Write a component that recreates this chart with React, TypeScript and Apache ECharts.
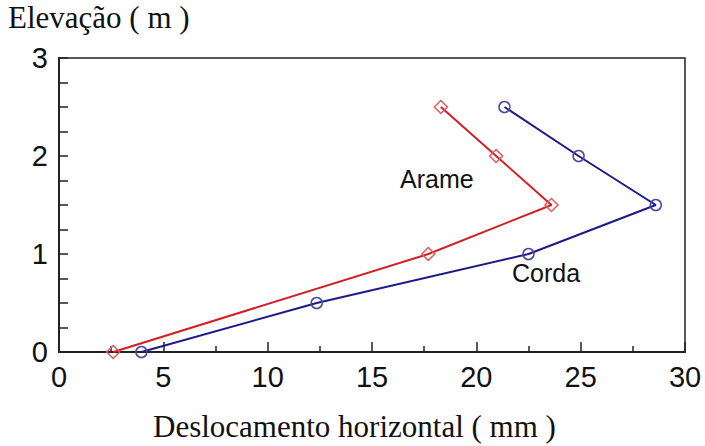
import React, { useEffect, useRef } from "react";
import * as echarts from "echarts";

const elevations = [0, 1.0, 1.5, 2.0, 2.5];
const arameX = [2.6, 17.7, 23.6, 20.95, 18.3];
const cordaElev = [0, 0.5, 1.0, 1.5, 2.0, 2.5];
const cordaX = [3.95, 12.35, 22.5, 28.6, 24.9, 21.35];
const xTicks = [0, 5, 10, 15, 20, 25, 30];
const yTicks = [0, 1, 2, 3];

const RED = "#d21f26";
const BLUE = "#1c1a8a";

export default function App() {
  const ref = useRef<HTMLDivElement>(null);
  useEffect(() => {
    if (!ref.current) return;
    const chart = echarts.init(ref.current, null, { renderer: "svg" });
    const axisCol = "#222";
    const sans = "Liberation Sans, Arial";
    const serif = "Liberation Serif, Times New Roman";
    chart.setOption({
      animation: false,
      backgroundColor: "#ffffff",
      grid: { left: 59, right: 20, top: 58, bottom: 94, show: true, borderColor: axisCol, borderWidth: 1.5, backgroundColor: "transparent" },
      xAxis: {
        type: "value",
        min: xTicks[0],
        max: xTicks[xTicks.length - 1],
        interval: 5,
        axisLine: { show: true, lineStyle: { color: axisCol, width: 2 } },
        axisTick: { show: true, inside: false, length: -10, lineStyle: { color: axisCol, width: 1.5 } },
        minorTick: { show: true, splitNumber: 2, length: -6, lineStyle: { color: axisCol, width: 1.5 } },
        splitLine: { show: false },
        axisLabel: { color: "#111", fontSize: 29, fontFamily: sans, margin: 10 },
      },
      yAxis: {
        type: "value",
        min: yTicks[0],
        max: yTicks[yTicks.length - 1],
        interval: 1,
        axisLine: { show: true, lineStyle: { color: axisCol, width: 2 } },
        axisTick: { show: true, inside: false, length: -9, lineStyle: { color: axisCol, width: 1.5 } },
        minorTick: { show: true, splitNumber: 4, length: -9, lineStyle: { color: axisCol, width: 1.5 } },
        splitLine: { show: false },
        axisLabel: { color: "#111", fontSize: 29, fontFamily: sans, margin: 11, padding: [8, 0, 0, 0] },
      },
      series: [
        {
          name: "Arame",
          type: "line",
          data: arameX.map((x, i) => [x, elevations[i]]),
          symbol: "diamond",
          symbolSize: 13,
          lineStyle: { color: RED, width: 2 },
          itemStyle: { color: "rgba(0,0,0,0)", borderColor: "#e05a5f", borderWidth: 1.5 },
          z: 3,
        },
        {
          name: "Corda",
          type: "line",
          data: cordaX.map((x, i) => [x, cordaElev[i]]),
          symbol: "circle",
          symbolSize: 11,
          lineStyle: { color: BLUE, width: 2 },
          itemStyle: { color: "rgba(0,0,0,0)", borderColor: "#4a4a9e", borderWidth: 1.5 },
          z: 3,
        },
      ],
      graphic: [
        { type: "text", x: 8, y: 17.5, style: { text: "Elevação ( m )", fontSize: 31, fontFamily: serif, fill: "#111", verticalAlign: "middle", align: "left" } },
        { type: "text", x: 153, y: 426, style: { text: "Deslocamento horizontal ( mm )", fontSize: 31, fontFamily: serif, fill: "#111", verticalAlign: "middle", align: "left" } },
        { type: "text", x: 400, y: 179, style: { text: "Arame", fontSize: 25, fontFamily: sans, fill: "#111", verticalAlign: "middle", align: "left" } },
        { type: "text", x: 512, y: 272.5, style: { text: "Corda", fontSize: 25, fontFamily: sans, fill: "#111", verticalAlign: "middle", align: "left" } },
      ],
    });
    return () => chart.dispose();
  }, []);
  return <div ref={ref} style={{ position: "absolute", left: 0, top: 0, width: 705, height: 446 }} />;
}
